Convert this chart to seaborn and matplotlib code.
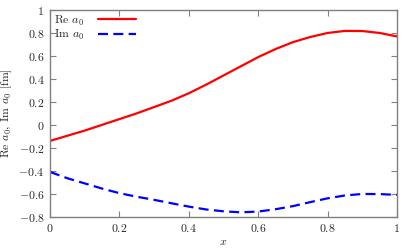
#
# plot.py
#   - Real and imaginary part of a_0 as a function of x.
#

import pandas as pd
import seaborn as sns
import matplotlib
matplotlib.use("Agg")
import matplotlib.pyplot as plt
from matplotlib.ticker import FuncFormatter, MultipleLocator

# values
x_vals = [0.0, 0.05, 0.1, 0.15, 0.2, 0.25, 0.3, 0.35, 0.4, 0.45, 0.5,
          0.55, 0.6, 0.65, 0.7, 0.75, 0.8, 0.85, 0.9, 0.95, 1.0]
re_a0 = [-0.14, -0.095, -0.05, 0.0, 0.05, 0.10, 0.155, 0.21, 0.275, 0.35, 0.43,
         0.51, 0.59, 0.66, 0.72, 0.765, 0.80, 0.818, 0.817, 0.80, 0.77]
im_a0 = [-0.41, -0.465, -0.51, -0.555, -0.595, -0.626, -0.653, -0.683, -0.712, -0.737, -0.753,
         -0.762, -0.755, -0.735, -0.708, -0.673, -0.64, -0.615, -0.602, -0.603, -0.61]

labels = [r"Re $a_0$", r"Im $a_0$"]


def main():
    sns.set_style("ticks")
    plt.rcParams["font.family"] = ["cmr10", "DejaVu Serif"]
    plt.rcParams["mathtext.fontset"] = "cm"
    plt.rcParams["axes.formatter.use_mathtext"] = True
    plt.rcParams["font.size"] = 8.5

    df_re = pd.DataFrame({"x": x_vals, "y": re_a0})
    df_im = pd.DataFrame({"x": x_vals, "y": im_a0})

    fig = plt.figure(figsize=(4.15, 2.49), dpi=100)
    ax = fig.add_axes([0.1205, 0.1297, 0.8361, 0.8301])

    sns.lineplot(data=df_re, x="x", y="y", ax=ax, color="#ff0000", lw=1.6,
                 label=labels[0])
    sns.lineplot(data=df_im, x="x", y="y", ax=ax, color="#0000ff", lw=1.6,
                 label=labels[1])
    ax.lines[1].set_dashes([4.5, 2.4])

    ax.set_xlim(0, 1)
    ax.set_ylim(-0.8, 1)
    ax.xaxis.set_major_locator(MultipleLocator(0.2))
    ax.yaxis.set_major_locator(MultipleLocator(0.2))
    fmt = FuncFormatter(lambda v, p: r"$%g$" % round(v, 6))
    ax.xaxis.set_major_formatter(fmt)
    ax.yaxis.set_major_formatter(fmt)

    for s in ax.spines.values():
        s.set_color("#808080")
        s.set_linewidth(1.0)
    ax.tick_params(direction="in", length=4, width=0.8, color="#808080",
                   top=True, right=True, labelsize=8.5, pad=4)

    ax.set_xlabel(r"$x$", labelpad=2)
    ax.set_ylabel(r"Re $a_0$, Im $a_0$ [fm]", labelpad=3)

    leg = ax.legend(loc="upper left", markerfirst=False, frameon=False,
                    handlelength=3.2, borderaxespad=0.1, borderpad=0.2,
                    labelspacing=0.05, handletextpad=1.2, fontsize=8.5)
    leg.get_lines()[1].set_dashes([4.5, 2.4])

    fig.savefig("out.png", dpi=100)


if __name__ == '__main__':
    main()
